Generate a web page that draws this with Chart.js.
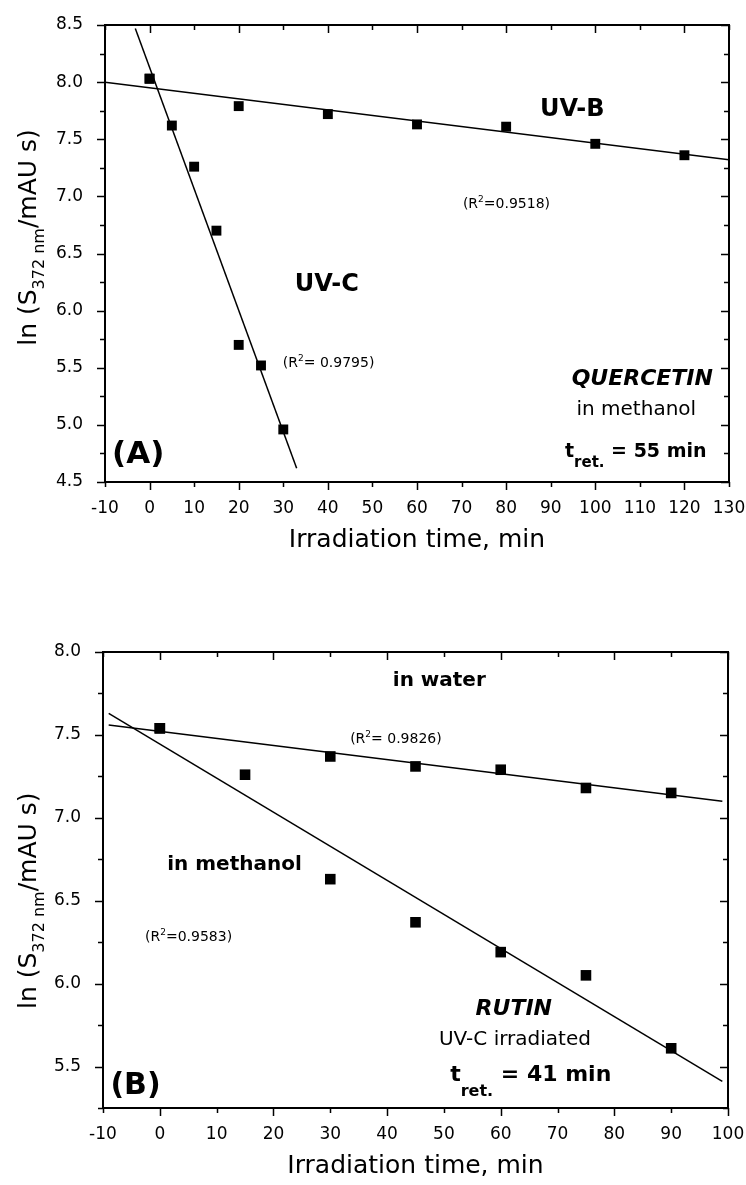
<!DOCTYPE html>
<html><head><meta charset="utf-8">
<script src="https://cdn.jsdelivr.net/npm/chart.js@4.4.0/dist/chart.umd.min.js"></script>
<style>
html,body{margin:0;padding:0;background:#fff;}
#wrapA{position:absolute;left:0;top:0;width:746px;height:590px;}
#wrapB{position:absolute;left:0;top:590px;width:746px;height:595px;}
canvas{display:block;}
</style></head><body>
<div id="wrapA"><canvas id="cA" width="746" height="590"></canvas></div>
<div id="wrapB"><canvas id="cB" width="746" height="595"></canvas></div>
<script>
// ---------- DATA ----------
// (A) Quercetin in methanol
const quercetinTimeUVB = [0, 20, 40, 60, 80, 100, 120];
const quercetinLnUVB   = [8.03, 7.79, 7.72, 7.63, 7.61, 7.46, 7.36];
const quercetinTimeUVC = [0, 5, 10, 15, 20, 25, 30];
const quercetinLnUVC   = [8.03, 7.62, 7.26, 6.70, 5.70, 5.52, 4.96];
const fitUVBTime = [-10, 130];
const fitUVBLn   = [8.00, 7.32];
const fitUVCTime = [-3.2, 33.0];
const fitUVCLn   = [8.47, 4.62];
const xTickValuesA = [-10, 0, 10, 20, 30, 40, 50, 60, 70, 80, 90, 100, 110, 120, 130];
const yTickValuesA = [4.5, 5.0, 5.5, 6.0, 6.5, 7.0, 7.5, 8.0, 8.5];

// (B) Rutin, UV-C irradiated
const rutinTimeWater = [0, 30, 45, 60, 75, 90];
const rutinLnWater   = [7.54, 7.37, 7.31, 7.29, 7.18, 7.15];
const rutinTimeMeth  = [0, 15, 30, 45, 60, 75, 90];
const rutinLnMeth    = [7.54, 7.26, 6.63, 6.37, 6.19, 6.05, 5.61];
const fitWaterTime = [-9, 99];
const fitWaterLn   = [7.56, 7.10];
const fitMethTime  = [-9, 99];
const fitMethLn    = [7.63, 5.41];
const xTickValuesB = [-10, 0, 10, 20, 30, 40, 50, 60, 70, 80, 90, 100];
const yTickValuesB = [5.5, 6.0, 6.5, 7.0, 7.5, 8.0];

const xTitleText = 'Irradiation time, min';
const yTitleRuns = [{t:'ln (S'},{t:'372 nm',pos:'sub'},{t:'/mAU s)'}];

const FAMILY = '"DejaVu Sans", "Liberation Sans", Arial, sans-serif';

function pts(xs, ys){ return xs.map((x,i)=>({x:x, y:ys[i]})); }

function fontStr(f){
  return (f.st||'normal') + ' ' + (f.w||'normal') + ' ' + f.s + 'px ' + FAMILY;
}

function drawRuns(ctx, runs, x, yBase, baseFont, align){
  const parts = runs.map(r=>{
    const size = r.s || (r.pos ? Math.round(baseFont.s*0.64) : baseFont.s);
    const f = Object.assign({}, baseFont, {s:size});
    ctx.font = fontStr(f);
    const w = ctx.measureText(r.t).width;
    let dy = 0;
    if (r.pos==='sub') dy = (r.dy!=null ? r.dy : 0.33*baseFont.s);
    if (r.pos==='sup') dy = (r.dy!=null ? r.dy : -0.42*baseFont.s);
    return {t:r.t, font:fontStr(f), w:w, dy:dy};
  });
  const total = parts.reduce((a,p)=>a+p.w,0);
  let cx = x;
  if (align==='center') cx = x - total/2;
  else if (align==='right') cx = x - total;
  ctx.textAlign='left';
  ctx.textBaseline='alphabetic';
  parts.forEach(p=>{
    ctx.font = p.font;
    ctx.fillText(p.t, cx, yBase + p.dy);
    cx += p.w;
  });
}

const framePlugin = {
  id: 'frame',
  afterDraw(chart){
    const o = chart.options.plugins.frame;
    const ctx = chart.ctx, a = chart.chartArea;
    const xs = chart.scales.x, ys = chart.scales.y;
    ctx.save();
    ctx.strokeStyle = '#000';
    ctx.fillStyle = '#000';
    // ticks
    ctx.lineWidth = 1.5;
    ctx.beginPath();
    o.xTicks.forEach(v=>{
      const px = Math.round(xs.getPixelForValue(v)) + 0.5;
      const len = (v % 20 === 0) ? 8 : 5;
      ctx.moveTo(px, a.bottom); ctx.lineTo(px, a.bottom + len);
      ctx.moveTo(px, a.top); ctx.lineTo(px, a.top + len);
    });
    const yt = o.yTicks;
    const yAll = [];
    for (let i=0;i<yt.length;i++){
      yAll.push({v:yt[i], major:true});
      if (i<yt.length-1) yAll.push({v:(yt[i]+yt[i+1])/2, major:false});
    }
    if (o.yExtraMinor) o.yExtraMinor.forEach(v=>yAll.push({v:v, major:false}));
    yAll.forEach(t=>{
      const py = Math.round(ys.getPixelForValue(t.v)) + 0.5;
      const len = t.major ? 8 : 5;
      ctx.moveTo(a.left, py); ctx.lineTo(a.left - len, py);
      ctx.moveTo(a.right, py); ctx.lineTo(a.right - len, py);
    });
    ctx.stroke();
    // frame
    ctx.lineWidth = 2;
    ctx.strokeRect(a.left, a.top, a.right - a.left, a.bottom - a.top);
    // annotations
    o.labels.forEach(L=>{
      const px = xs.getPixelForValue(L.x);
      const py = ys.getPixelForValue(L.y) + 0.36*L.font.s;
      drawRuns(ctx, L.runs, px, py, L.font, L.align);
    });
    // y title
    const cy = ys.getPixelForValue(o.yTitleCenter);
    ctx.translate(o.yTitleBaseX, cy);
    ctx.rotate(-Math.PI/2);
    drawRuns(ctx, yTitleRuns, 0, 0, {s:25}, 'center');
    ctx.restore();
  }
};

function makeChart(id, c){
  return new Chart(document.getElementById(id), {
    type: 'scatter',
    data: { datasets: c.datasets },
    options: {
      responsive: false,
      animation: false,
      devicePixelRatio: 1,
      layout: { padding: { left: 0, right: c.padRight, top: c.padTop, bottom: 0 } },
      plugins: {
        legend: { display: false },
        tooltip: { enabled: false },
        frame: c.frame
      },
      scales: {
        x: {
          type: 'linear', min: c.xMin, max: c.xMax,
          afterBuildTicks: s => { s.ticks = c.xTicks.map(v=>({value:v})); },
          afterFit: s => { s.height = c.xAxisHeight; s.paddingLeft = 0; s.paddingRight = 0; },
          grid: { display: false }, border: { display: false },
          ticks: { color: '#000', font: { family: FAMILY, size: 17 }, padding: 8, maxRotation: 0, autoSkip: false,
                   callback: v => String(v) },
          title: { display: true, text: xTitleText, color: '#000',
                   font: { family: FAMILY, size: 25 }, padding: { top: 0, bottom: c.xTitlePadBottom } }
        },
        y: {
          type: 'linear', min: c.yMin, max: c.yMax,
          afterBuildTicks: s => { s.ticks = c.yTicks.map(v=>({value:v})); },
          afterFit: s => { s.width = c.yAxisWidth; s.paddingTop = 0; s.paddingBottom = 0; },
          grid: { display: false }, border: { display: false },
          ticks: { color: '#000', font: { family: FAMILY, size: 17 }, padding: 14, autoSkip: false,
                   callback: v => Number(v).toFixed(1) }
        }
      }
    },
    plugins: [framePlugin]
  });
}

const lineStyle = { showLine: true, pointRadius: 0, borderColor: '#000', borderWidth: 1.5, backgroundColor: '#000' };
const markStyle = (r) => ({ showLine: false, pointStyle: 'rect', pointRadius: r, backgroundColor: '#000', borderColor: '#000', borderWidth: 0 });

makeChart('cA', {
  xMin: -10, xMax: 130, yMin: 4.5, yMax: 8.5,
  xTicks: xTickValuesA, yTicks: yTickValuesA,
  padRight: 17, padTop: 25, xAxisHeight: 108, yAxisWidth: 105, xTitlePadBottom: 35,
  datasets: [
    Object.assign({ label: 'UV-B fit', data: pts(fitUVBTime, fitUVBLn) }, lineStyle),
    Object.assign({ label: 'UV-C fit', data: pts(fitUVCTime, fitUVCLn) }, lineStyle),
    Object.assign({ label: 'UV-B', data: pts(quercetinTimeUVB, quercetinLnUVB) }, markStyle(7)),
    Object.assign({ label: 'UV-C', data: pts(quercetinTimeUVC, quercetinLnUVC) }, markStyle(7))
  ],
  frame: {
    xTicks: xTickValuesA, yTicks: yTickValuesA,
    yTitleCenter: 6.64, yTitleBaseX: 36,
    labels: [
      { x: 87.6, y: 7.78, align: 'left', font: { w: 'bold', s: 24 }, runs: [{ t: 'UV-B' }] },
      { x: 32.6, y: 6.25, align: 'left', font: { w: 'bold', s: 24 }, runs: [{ t: 'UV-C' }] },
      { x: 70.3, y: 6.94, align: 'left', font: { s: 14 }, runs: [{ t: '(R' }, { t: '2', pos: 'sup', s: 9 }, { t: '=0.9518)' }] },
      { x: 29.9, y: 5.55, align: 'left', font: { s: 14 }, runs: [{ t: '(R' }, { t: '2', pos: 'sup', s: 9 }, { t: '= 0.9795)' }] },
      { x: 126.4, y: 5.42, align: 'right', font: { w: 'bold', st: 'italic', s: 22 }, runs: [{ t: 'QUERCETIN' }] },
      { x: 109.2, y: 5.15, align: 'center', font: { s: 20 }, runs: [{ t: 'in methanol' }] },
      { x: 93.2, y: 4.78, align: 'left', font: { w: 'bold', s: 19 }, runs: [{ t: 't' }, { t: 'ret.', pos: 'sub', s: 15, dy: 10 }, { t: ' = 55 min' }] },
      { x: -8.43, y: 4.76, align: 'left', font: { w: 'bold', s: 31 }, runs: [{ t: '(A)' }] }
    ]
  }
});

makeChart('cB', {
  xMin: -10, xMax: 100, yMin: 5.25, yMax: 8.0,
  xTicks: xTickValuesB, yTicks: yTickValuesB,
  padRight: 18, padTop: 62, xAxisHeight: 77, yAxisWidth: 103, xTitlePadBottom: 4,
  datasets: [
    Object.assign({ label: 'water fit', data: pts(fitWaterTime, fitWaterLn) }, lineStyle),
    Object.assign({ label: 'methanol fit', data: pts(fitMethTime, fitMethLn) }, lineStyle),
    Object.assign({ label: 'in water', data: pts(rutinTimeWater, rutinLnWater) }, markStyle(7.5)),
    Object.assign({ label: 'in methanol', data: pts(rutinTimeMeth, rutinLnMeth) }, markStyle(7.5))
  ],
  frame: {
    xTicks: xTickValuesB, yTicks: yTickValuesB, yExtraMinor: [5.25],
    yTitleCenter: 6.50, yTitleBaseX: 36,
    labels: [
      { x: 41.0, y: 7.84, align: 'left', font: { w: 'bold', s: 20 }, runs: [{ t: 'in water' }] },
      { x: 33.5, y: 7.48, align: 'left', font: { s: 14 }, runs: [{ t: '(R' }, { t: '2', pos: 'sup', s: 9 }, { t: '= 0.9826)' }] },
      { x: 1.3, y: 6.73, align: 'left', font: { w: 'bold', s: 20 }, runs: [{ t: 'in methanol' }] },
      { x: -2.6, y: 6.29, align: 'left', font: { s: 14 }, runs: [{ t: '(R' }, { t: '2', pos: 'sup', s: 9 }, { t: '=0.9583)' }] },
      { x: 62.3, y: 5.857, align: 'center', font: { w: 'bold', st: 'italic', s: 22 }, runs: [{ t: 'RUTIN' }] },
      { x: 62.5, y: 5.676, align: 'center', font: { s: 20 }, runs: [{ t: 'UV-C irradiated' }] },
      { x: 51.1, y: 5.459, align: 'left', font: { w: 'bold', s: 22 }, runs: [{ t: 't' }, { t: 'ret.', pos: 'sub', s: 16, dy: 15 }, { t: ' = 41 min' }] },
      { x: -8.7, y: 5.40, align: 'left', font: { w: 'bold', s: 30 }, runs: [{ t: '(B)' }] }
    ]
  }
});
</script>
</body></html>
